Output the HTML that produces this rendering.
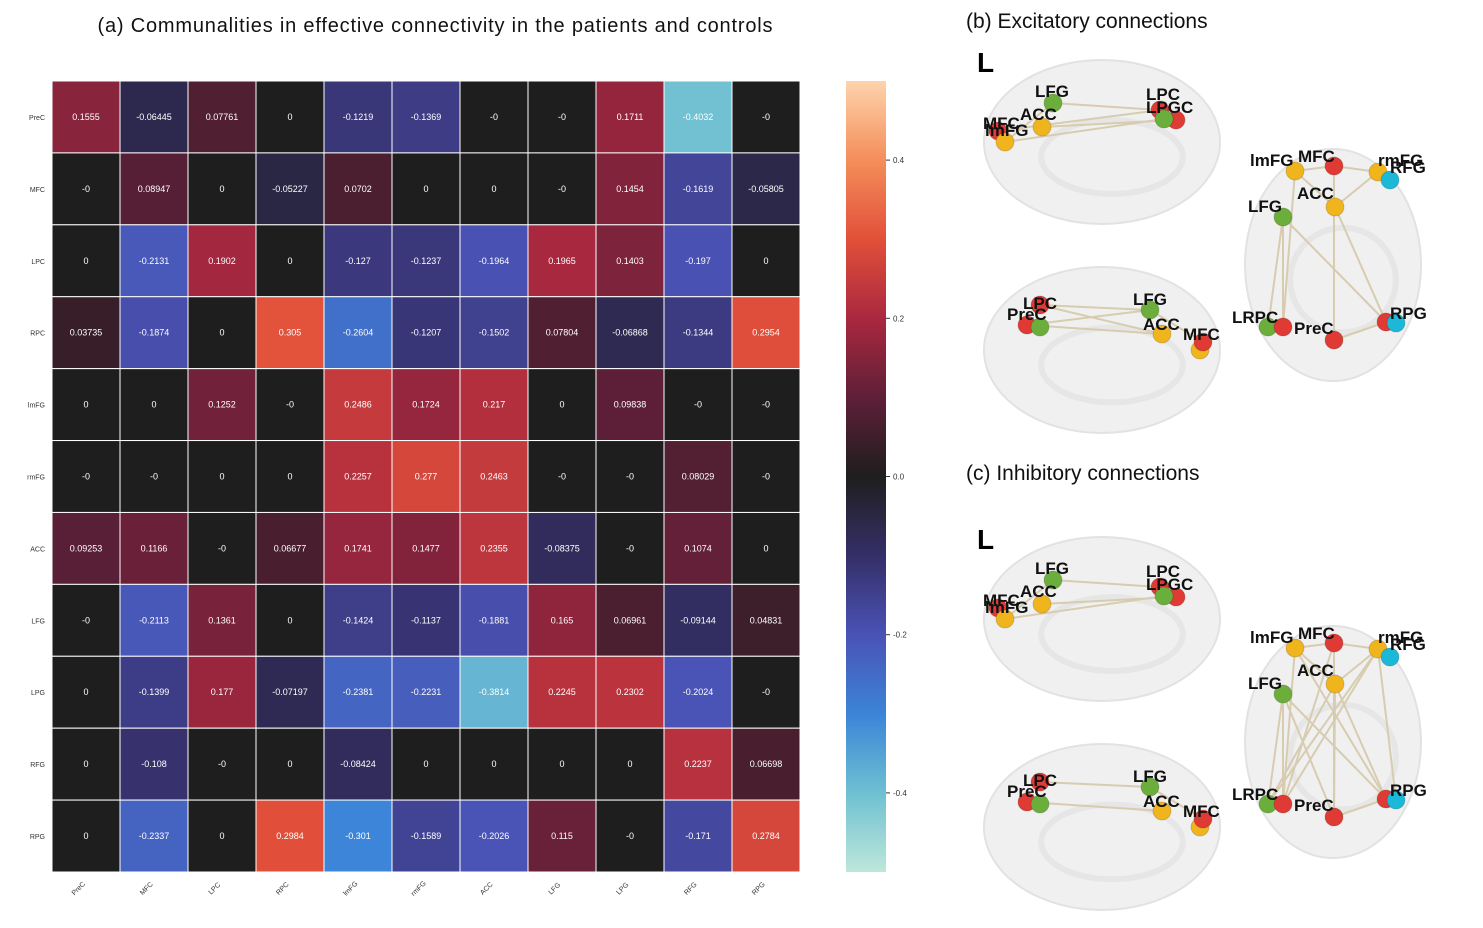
<!DOCTYPE html>
<html><head><meta charset="utf-8"><style>
body{margin:0;background:#fff;width:1483px;height:928px;overflow:hidden;font-family:"Liberation Sans",Arial,sans-serif}
svg{position:absolute;left:0;top:0}
</style></head><body>
<svg id="s" width="1483" height="928" font-family="Liberation Sans, Arial, sans-serif">
<text x="435" y="32" font-size="20" text-anchor="middle" fill="#111" textLength="675" lengthAdjust="spacing">(a) Communalities in effective connectivity in the patients and controls</text>
<text x="966" y="28" font-size="21" fill="#111">(b) Excitatory connections</text>
<text x="966" y="480" font-size="21" fill="#111">(c) Inhibitory connections</text>
<g id="hm"></g>
<g id="cb"></g>
<g id="br"></g>
</svg>
<script>
const labels=["PreC","MFC","LPC","RPC","lmFG","rmFG","ACC","LFG","LPG","RFG","RPG"];
const rowValues=[
["0.1555","-0.06445","0.07761","0","-0.1219","-0.1369","-0","-0","0.1711","-0.4032","-0"],
["-0","0.08947","0","-0.05227","0.0702","0","0","-0","0.1454","-0.1619","-0.05805"],
["0","-0.2131","0.1902","0","-0.127","-0.1237","-0.1964","0.1965","0.1403","-0.197","0"],
["0.03735","-0.1874","0","0.305","-0.2604","-0.1207","-0.1502","0.07804","-0.06868","-0.1344","0.2954"],
["0","0","0.1252","-0","0.2486","0.1724","0.217","0","0.09838","-0","-0"],
["-0","-0","0","0","0.2257","0.277","0.2463","-0","-0","0.08029","-0"],
["0.09253","0.1166","-0","0.06677","0.1741","0.1477","0.2355","-0.08375","-0","0.1074","0"],
["-0","-0.2113","0.1361","0","-0.1424","-0.1137","-0.1881","0.165","0.06961","-0.09144","0.04831"],
["0","-0.1399","0.177","-0.07197","-0.2381","-0.2231","-0.3814","0.2245","0.2302","-0.2024","-0"],
["0","-0.108","-0","0","-0.08424","0","0","0","0","0.2237","0.06698"],
["0","-0.2337","0","0.2984","-0.301","-0.1589","-0.2026","0.115","-0","-0.171","0.2784"]];
const cbTicks=[0.4,0.2,0.0,-0.2,-0.4];
const NS="http://www.w3.org/2000/svg";
function mk(t,a,p){const e=document.createElementNS(NS,t);for(const k in a)e.setAttribute(k,a[k]);p.appendChild(e);return e;}
const stops=[[189,231,219],[110,192,210],[59,132,216],[74,82,181],[53,47,104],[31,30,30],[94,31,56],[170,40,63],[226,80,58],[244,142,90],[254,211,172]];
function cmap(v){let t=(v+0.5)/1.0*10;t=Math.max(0,Math.min(10,t));const i=Math.min(9,Math.floor(t)),f=t-i;const a=stops[i],b=stops[i+1];return`rgb(${a.map((c,k)=>Math.round(c+(b[k]-c)*f)).join(',')})`;}
const X0=52,Y0=81,CW=748/11,CH=791/11;
const xPos=i=>X0+i*CW, yPos=j=>Y0+j*CH;
const hm=document.getElementById('hm');
rowValues.forEach((row,j)=>row.forEach((s,i)=>{
 const v=parseFloat(s);
 const r=mk('rect',{x:xPos(i),y:yPos(j),width:CW,height:CH,fill:cmap(v),stroke:'#fff','stroke-width':1},hm);
 
 
 const t=mk('text',{x:xPos(i)+CW/2,y:yPos(j)+CH/2+3,'font-size':9,'text-anchor':'middle',fill:'#fff'},hm);t.textContent=s;
 
 
}));
labels.forEach((l,j)=>{
 const t=mk('text',{x:45,y:yPos(j)+CH/2+3,'font-size':7,'text-anchor':'end',fill:'#333'},hm);t.textContent=l;
 
 
 const cx=xPos(j)+CW/2-6,cy=890;
 const u=mk('text',{x:cx,y:cy,'font-size':7,'text-anchor':'middle',fill:'#333',transform:`rotate(-45 ${cx} ${cy})`},hm);u.textContent=l;
 
 
});
const cb=document.getElementById('cb');
const defs=mk('defs',{},cb);const g=mk('linearGradient',{id:'gr',x1:0,y1:1,x2:0,y2:0},defs);
stops.forEach((c,i)=>mk('stop',{offset:i/10,'stop-color':`rgb(${c.join(',')})`},g));
mk('rect',{x:846,y:81,width:40,height:791,fill:'url(#gr)'},cb);
const cbY=v=>81+(0.5-v)*791;
cbTicks.forEach(v=>{mk('line',{x1:886,x2:890,y1:cbY(v),y2:cbY(v),stroke:'#333'},cb);
 const t=mk('text',{x:893,y:cbY(v)+3,'font-size':8,fill:'#333'},cb);t.textContent=v.toFixed(1);
 
 });
const br=document.getElementById('br');
const COL={r:'#e03a35',g:'#6cae3c',y:'#f0b41c',c:'#1cb8d8'};
const nodes=[
 ['LFG',1053,103,'g',1035,97],['LPC',1160,110,'r',1146,100],['LPGC',1176,120,'r',1146,113],['',1164,119,'g',0,0],
 ['MFC',998,131,'r',983,129],['ACC',1042,127,'y',1020,120],['lmFG',1005,142,'y',985,136],
 ['LPC',1040,305,'r',1023,309],['PreC',1027,325,'r',1007,320],['',1040,327,'g',0,0],['LFG',1150,310,'g',1133,305],['ACC',1162,334,'y',1143,330],['',1200,350,'y',0,0],['MFC',1203,342,'r',1183,340],
 ['lmFG',1295,171,'y',1250,166],['MFC',1334,166,'r',1298,162],['rmFG',1378,172,'y',1378,166],['RFG',1390,180,'c',1390,173],['ACC',1335,207,'y',1297,199],['LFG',1283,217,'g',1248,212],
 ['LRPC',1268,327,'g',1232,323],['',1283,327,'r',0,0],['PreC',1334,340,'r',1294,334],['RPG',1386,322,'r',1390,319],['',1396,323,'c',0,0]];
const exEdges=[[0,1],[0,6],[5,2],[6,3],[4,1],[7,10],[8,10],[7,11],[8,11],[10,13],[14,15],[15,16],[14,18],[16,18],[15,22],[19,20],[19,21],[18,23],[19,23],[22,23],[14,21]];
const inEdges=[[0,1],[0,6],[5,2],[6,3],[7,10],[8,11],[10,13],[14,15],[15,16],[14,18],[16,18],[15,22],[19,20],[19,21],[18,23],[19,23],[22,23],[14,21],[16,21],[16,20],[18,20],[14,23],[15,21],[19,22],[18,22],[16,24]];
function panel(dy,edges,nm){
 const p=mk('g',{},br);
 
 
 mk('text',{x:977,y:dy+72,'font-size':28,'font-weight':'bold',fill:'#000'},p).textContent='L';
 [[1102,142,118,82],[1102,350,118,83],[1333,265,88,116]].forEach(e=>{
  mk('ellipse',{cx:e[0],cy:e[1]+dy,rx:e[2],ry:e[3],fill:'#f0f0f0',stroke:'#e2e2e2','stroke-width':2},p);
  mk('ellipse',{cx:e[0]+10,cy:e[1]+dy+15,rx:e[2]*0.6,ry:e[3]*0.45,fill:'none',stroke:'#e6e6e6','stroke-width':6},p);});
 edges.forEach(([a,b])=>mk('line',{x1:nodes[a][1],y1:nodes[a][2]+dy,x2:nodes[b][1],y2:nodes[b][2]+dy,stroke:'#d8ccb0','stroke-width':2},p));
 nodes.forEach(n=>{const c=mk('circle',{cx:n[1],cy:n[2]+dy,r:9,fill:COL[n[3]],stroke:'rgba(0,0,0,0.15)'},p);
  
  });
 nodes.forEach(n=>{if(n[0]){const t=mk('text',{x:n[4],y:n[5]+dy,'font-size':17,'font-weight':'bold',fill:'#111'},p);t.textContent=n[0];
  
  }});
}
panel(0,exEdges,'excitatory-brain');
panel(477,inEdges,'inhibitory-brain');
</script>
</body></html>
